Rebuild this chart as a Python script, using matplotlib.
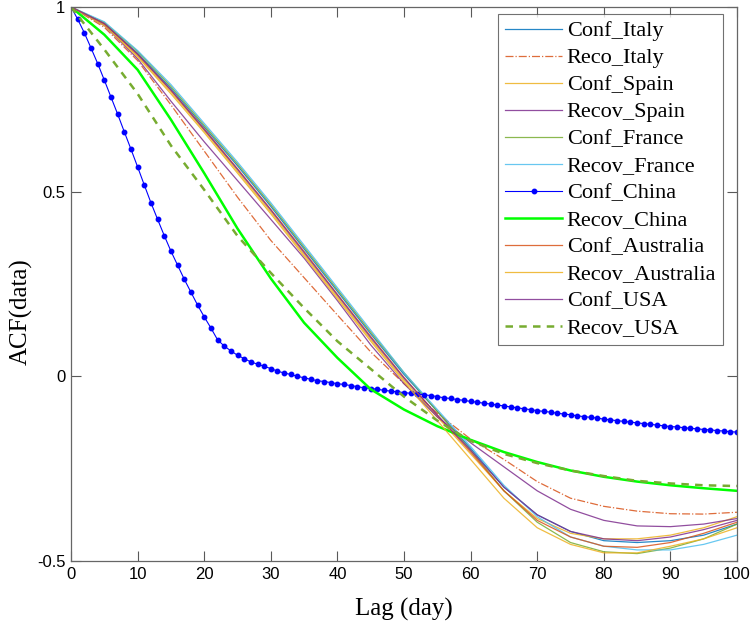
import matplotlib
matplotlib.use("Agg")
import matplotlib.pyplot as plt

lags = list(range(0, 101, 5))

conf_italy = [1, 0.955, 0.875, 0.78, 0.675, 0.57, 0.46, 0.345, 0.23, 0.115, 0.005,
              -0.095, -0.195, -0.30, -0.375, -0.42, -0.445, -0.45, -0.445, -0.43, -0.40]
reco_italy = [1, 0.945, 0.855, 0.735, 0.61, 0.485, 0.368, 0.267, 0.166, 0.066, -0.02,
              -0.10, -0.17, -0.225, -0.285, -0.33, -0.352, -0.365, -0.372, -0.373, -0.368]
conf_spain = [1, 0.952, 0.868, 0.77, 0.665, 0.555, 0.445, 0.33, 0.215, 0.10, -0.01,
              -0.11, -0.21, -0.31, -0.385, -0.425, -0.44, -0.44, -0.43, -0.41, -0.38]
recov_spain = [1, 0.95, 0.86, 0.745, 0.635, 0.53, 0.425, 0.32, 0.205, 0.085, -0.02,
               -0.11, -0.18, -0.245, -0.31, -0.36, -0.39, -0.405, -0.407, -0.40, -0.385]
conf_france = [1, 0.958, 0.88, 0.785, 0.68, 0.575, 0.465, 0.35, 0.235, 0.12, 0.01,
               -0.095, -0.20, -0.31, -0.395, -0.45, -0.475, -0.48, -0.465, -0.44, -0.40]
recov_france = [1, 0.96, 0.882, 0.79, 0.685, 0.58, 0.47, 0.355, 0.24, 0.125, 0.01,
                -0.09, -0.19, -0.295, -0.38, -0.435, -0.46, -0.47, -0.47, -0.455, -0.43]
recov_china = [1, 0.925, 0.83, 0.695, 0.55, 0.40, 0.265, 0.145, 0.05, -0.035, -0.09,
               -0.135, -0.172, -0.205, -0.232, -0.255, -0.272, -0.285, -0.295, -0.303, -0.31]
conf_australia = [1, 0.955, 0.872, 0.775, 0.67, 0.562, 0.452, 0.338, 0.222, 0.108, -0.003,
                  -0.105, -0.205, -0.31, -0.39, -0.435, -0.46, -0.463, -0.45, -0.425, -0.395]
recov_australia = [1, 0.95, 0.865, 0.765, 0.66, 0.55, 0.44, 0.325, 0.21, 0.095, -0.015,
                   -0.12, -0.225, -0.33, -0.41, -0.455, -0.478, -0.478, -0.46, -0.44, -0.41]
conf_usa = [1, 0.955, 0.872, 0.775, 0.668, 0.56, 0.45, 0.335, 0.22, 0.105, -0.005,
            -0.105, -0.20, -0.30, -0.375, -0.42, -0.44, -0.445, -0.435, -0.415, -0.39]
recov_usa = [1, 0.885, 0.765, 0.625, 0.505, 0.38, 0.28, 0.185, 0.095, 0.02, -0.055,
             -0.12, -0.175, -0.21, -0.235, -0.255, -0.27, -0.283, -0.29, -0.295, -0.297]

# China confirmed: one value per lag day 0..100
china_lags = list(range(0, 101))
conf_china = [1.0, 0.967, 0.930, 0.889, 0.847, 0.802, 0.756, 0.710, 0.662, 0.615,
              0.567, 0.518, 0.470, 0.425, 0.381, 0.339, 0.301, 0.263, 0.228, 0.193,
              0.161, 0.131, 0.099, 0.082, 0.069, 0.057, 0.048, 0.039, 0.033, 0.027,
              0.021, 0.014, 0.009, 0.005, 0.000, -0.004, -0.008, -0.012, -0.014, -0.017,
              -0.020, -0.022, -0.025, -0.028, -0.031, -0.033, -0.035, -0.038, -0.040, -0.042,
              -0.044, -0.046, -0.048, -0.050, -0.052, -0.055, -0.058, -0.060, -0.063, -0.065,
              -0.068, -0.070, -0.073, -0.075, -0.078, -0.080, -0.083, -0.085, -0.088, -0.090,
              -0.093, -0.095, -0.097, -0.100, -0.102, -0.104, -0.107, -0.109, -0.111, -0.113,
              -0.116, -0.118, -0.120, -0.122, -0.124, -0.126, -0.128, -0.130, -0.132, -0.134,
              -0.136, -0.137, -0.139, -0.141, -0.142, -0.144, -0.145, -0.147, -0.148, -0.150,
              -0.151]

c_blue = (0, 0.447, 0.741)
c_orange = (0.850, 0.325, 0.098)
c_yellow = (0.929, 0.694, 0.125)
c_purple = (0.494, 0.184, 0.556)
c_green = (0.466, 0.674, 0.188)
c_lblue = (0.301, 0.745, 0.933)

fig = plt.figure(figsize=(7.5, 6.25), dpi=100)
ax = fig.add_axes([0.0947, 0.1024, 0.888, 0.8864])

lw = 0.9
a = 0.85
ax.plot(lags, conf_italy, color=c_blue, lw=lw, alpha=a, label='Conf_Italy')
ax.plot(lags, reco_italy, color=c_orange, lw=lw, alpha=a, ls='-.', label='Reco_Italy')
ax.plot(lags, conf_spain, color=c_yellow, lw=lw, alpha=a, label='Conf_Spain')
ax.plot(lags, recov_spain, color=c_purple, lw=lw, alpha=a, label='Recov_Spain')
ax.plot(lags, conf_france, color=c_green, lw=lw, alpha=a, label='Conf_France')
ax.plot(lags, recov_france, color=c_lblue, lw=lw, alpha=a, label='Recov_France')
ax.plot(china_lags, conf_china, color='b', lw=0.8, marker='o', ms=3.2,
        mec='b', mfc='b', label='Conf_China')
ax.plot(lags, recov_china, color=(0, 1, 0), lw=1.8, label='Recov_China')
ax.plot(lags, conf_australia, color=c_orange, lw=lw, alpha=a, label='Conf_Australia')
ax.plot(lags, recov_australia, color=c_yellow, lw=lw, alpha=a, label='Recov_Australia')
ax.plot(lags, conf_usa, color=c_purple, lw=lw, alpha=a, label='Conf_USA')
ax.plot(lags, recov_usa, color=c_green, lw=1.8, ls=(0, (3, 2.5)), label='Recov_USA')

ax.set_xlim(0, 100)
ax.set_ylim(-0.5, 1)
ax.set_xticks(range(0, 101, 10))
ax.set_yticks([-0.5, 0, 0.5, 1])
ax.set_yticklabels(['-0.5', '0', '0.5', '1'])
ax.tick_params(direction='in', length=7, width=0.8, top=True, right=True,
               labelsize=12, colors='0.35', labelcolor='black', pad=4)
for lbl in ax.get_xticklabels() + ax.get_yticklabels():
    lbl.set_family('Liberation Sans')
for sp in ax.spines.values():
    sp.set_color('0.4')
    sp.set_linewidth(0.9)

ax.set_xlabel('Lag (day)', family='Liberation Serif', fontsize=18, labelpad=12)
ax.set_ylabel('ACF(data)', family='Liberation Serif', fontsize=18)
ax.yaxis.set_label_coords(-0.057, 0.45)

leg = ax.legend(loc='upper right', bbox_to_anchor=(0.979, 0.987),
                prop={'family': 'Liberation Serif', 'size': 16},
                frameon=True, fancybox=False, handlelength=2.6, handletextpad=0.2,
                labelspacing=0.29, borderaxespad=0, borderpad=0.3)
leg.get_frame().set_edgecolor('0.3')
leg.get_frame().set_linewidth(0.8)

fig.savefig('out.png', dpi=100)
